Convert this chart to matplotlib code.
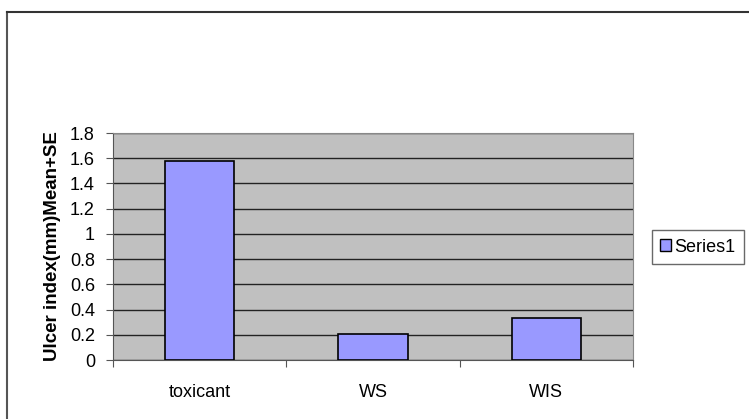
import matplotlib.pyplot as plt
import matplotlib.patches as mpatches
from matplotlib.lines import Line2D

categories = ['toxicant', 'WS', 'WIS']
values = [1.58, 0.21, 0.33]
yticks = [0, 0.2, 0.4, 0.6, 0.8, 1, 1.2, 1.4, 1.6, 1.8]
ytick_labels = ['0', '0.2', '0.4', '0.6', '0.8', '1', '1.2', '1.4', '1.6', '1.8']

plt.rcParams['font.family'] = ['Liberation Sans', 'DejaVu Sans']

fig = plt.figure(figsize=(7.49, 4.19), dpi=100)
fig.patch.set_facecolor('white')

# outer chart frame (only top and left edges visible)
fig.add_artist(Line2D([7 / 749, 7 / 749], [0, 1 - 12 / 419], color='#555555', lw=1.5))
fig.add_artist(Line2D([7 / 749, 1], [1 - 12 / 419, 1 - 12 / 419], color='#333333', lw=1.5))

ax = fig.add_axes([113 / 749, 59 / 419, 520 / 749, 227 / 419])
ax.set_facecolor('#C0C0C0')

x = list(range(len(categories)))
ax.bar(x, values, width=0.4, color='#9999FF', edgecolor='black', linewidth=1.2,
       zorder=3, label='Series1')

ax.set_xlim(-0.5, len(categories) - 0.5)
ax.set_ylim(0, 1.8)
ax.set_yticks(yticks)
ax.set_yticklabels(ytick_labels, fontsize=13)
ax.yaxis.grid(True, color='#222222', lw=1)
ax.set_axisbelow(True)

# category ticks between groups, labels centered
ax.set_xticks([-0.5, 0.5, 1.5, 2.5])
ax.set_xticklabels([])
ax.set_xticks(x, minor=True)
ax.set_xticklabels(categories, minor=True, fontsize=13)
ax.tick_params(axis='x', which='minor', length=0, pad=17)
ax.tick_params(axis='x', which='major', length=5, direction='out', color='#555555')
ax.tick_params(axis='y', length=5, direction='out', color='#555555', pad=8)

for side in ['top', 'right']:
    ax.spines[side].set_color('#888888')
for side in ['left', 'bottom']:
    ax.spines[side].set_color('#555555')

ax.set_ylabel('Ulcer index(mm)Mean+SE', fontsize=13.5, fontweight='bold', labelpad=6)

handle = mpatches.Patch(facecolor='#9999FF', edgecolor='black', label='Series1')
leg = fig.legend(handles=[handle], loc='center left',
                 bbox_to_anchor=(652 / 749, 1 - 247 / 419), borderaxespad=0,
                 fontsize=13, frameon=True, fancybox=False,
                 handlelength=0.6, handleheight=0.6, handletextpad=0.2,
                 borderpad=0.45, edgecolor='#444444')
leg.get_frame().set_linewidth(1)

plt.savefig('out.png', dpi=100)
